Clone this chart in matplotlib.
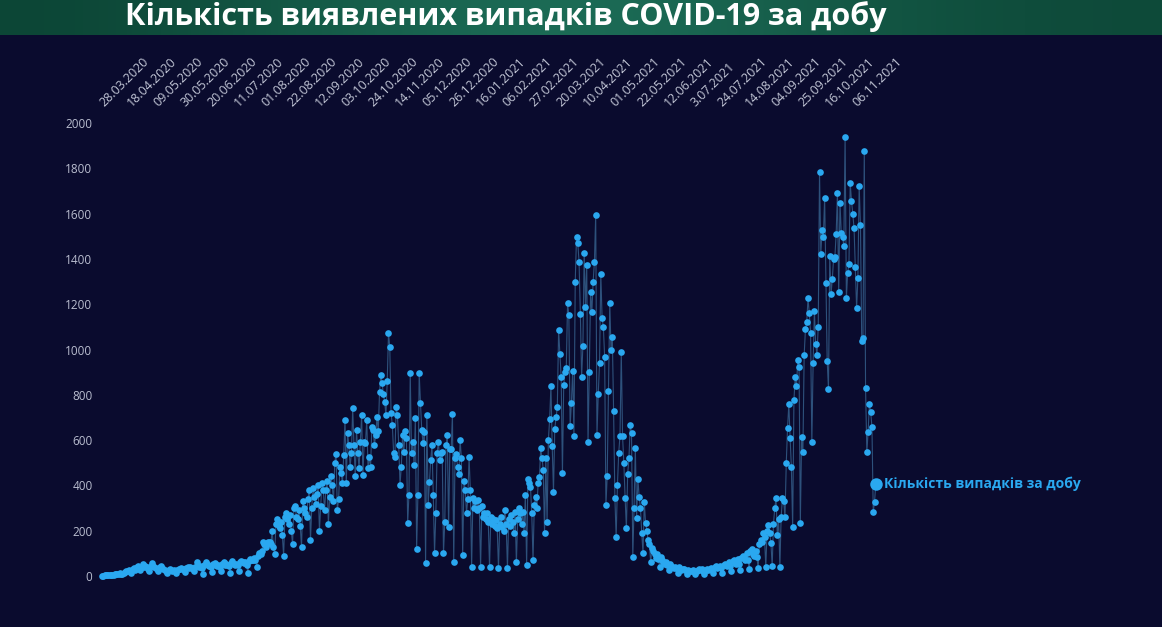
import numpy as np
import pandas as pd
import matplotlib
matplotlib.use('Agg')
import matplotlib.pyplot as plt
import matplotlib.transforms as mtransforms
from matplotlib.colors import LinearSegmentedColormap

# тексти
title = 'Кількість виявлених випадків COVID-19 за добу'
series_name = 'Кількість випадків за добу'
start_date = '2020-03-28'

# мітки осі X (кожні 21 день)
tick_labels = ['28.03.2020', '18.04.2020', '09.05.2020', '30.05.2020', '20.06.2020',
               '11.07.2020', '01.08.2020', '22.08.2020', '12.09.2020', '03.10.2020',
               '24.10.2020', '14.11.2020', '05.12.2020', '26.12.2020', '16.01.2021',
               '06.02.2021', '27.02.2021', '20.03.2021', '10.04.2021', '01.05.2021',
               '22.05.2021', '12.06.2021', '3.07.2021', '24.07.2021', '14.08.2021',
               '04.09.2021', '25.09.2021', '16.10.2021', '06.11.2021']

y_ticks = [0, 200, 400, 600, 800, 1000, 1200, 1400, 1600, 1800, 2000]

# щоденні значення (по тижнях, оцінено з картинки)
cases = [
    1, 2, 3, 3, 4, 5, 5,
    6, 5, 4, 7, 8, 9, 10,
    12, 10, 8, 15, 18, 20, 22,
    25, 20, 15, 30, 35, 28, 40,
    45, 35, 25, 40, 55, 38, 45,
    40, 32, 22, 45, 57, 42, 38,
    35, 30, 20, 40, 45, 35, 30,
    28, 22, 15, 25, 30, 26, 24,
    25, 20, 12, 28, 32, 30, 35,
    30, 28, 18, 35, 40, 36, 38,
    35, 30, 20, 40, 62, 42, 40,
    42, 35, 10, 50, 60, 55, 48,
    45, 38, 18, 52, 58, 50, 45,
    48, 40, 20, 55, 62, 50, 52,
    50, 45, 15, 58, 65, 55, 50,
    55, 48, 20, 60, 68, 62, 58,
    60, 50, 15, 65, 75, 70, 72,
    80, 72, 40, 90, 100, 95, 110,
    150, 140, 130, 145, 150, 148, 140,
    200, 130, 95, 230, 250, 220, 210,
    240, 180, 90, 260, 280, 250, 230,
    270, 200, 140, 300, 310, 260, 250,
    290, 220, 128, 330, 300, 280, 260,
    340, 380, 160, 300, 390, 350, 320,
    360, 400, 200, 310, 410, 380, 290,
    380, 420, 230, 350, 440, 400, 330,
    500, 540, 290, 340, 480, 455, 410,
    534, 689, 410, 631, 578, 481, 543,
    742, 578, 441, 645, 543, 477, 592,
    711, 446, 592, 587, 689, 477, 525,
    481, 658, 645, 578, 623, 700, 640,
    812, 887, 852, 803, 768, 711, 860,
    1073, 1011, 720, 667, 543, 525, 746,
    711, 578, 402, 481, 623, 547, 640,
    609, 234, 358, 896, 543, 592, 490,
    698, 119, 358, 896, 764, 645, 587,
    636, 57, 711, 313, 415, 512, 578,
    358, 101, 278, 543, 592, 512, 543,
    547, 101, 238, 578, 623, 216, 560,
    560, 715, 62, 520, 540, 480, 450,
    600, 520, 93, 420, 380, 278, 340,
    525, 380, 40, 344, 300, 330, 290,
    336, 300, 40, 310, 260, 280, 250,
    278, 240, 40, 260, 230, 250, 220,
    247, 210, 35, 230, 260, 216, 200,
    291, 230, 35, 250, 220, 270, 240,
    190, 283, 60, 250, 300, 280, 230,
    283, 190, 358, 49, 428, 410, 393,
    278, 70, 313, 350, 300, 410, 437,
    565, 521, 470, 190, 520, 238, 600,
    693, 839, 574, 371, 650, 700, 746,
    1086, 980, 879, 455, 843, 900, 918,
    1205, 1152, 662, 764, 905, 618, 1300,
    1497, 1470, 1386, 1157, 879, 1015, 1426,
    1188, 1373, 592, 901, 1254, 1165, 1300,
    1386, 1594, 623, 803, 940, 1333, 1139,
    1100, 967, 313, 441, 817, 1205, 1000,
    1055, 728, 344, 172, 402, 543, 620,
    989, 618, 500, 344, 212, 450, 520,
    667, 631, 84, 300, 565, 256, 428,
    350, 300, 190, 101, 327, 234, 200,
    159, 140, 60, 125, 110, 95, 80,
    95, 75, 40, 85, 70, 60, 55,
    60, 50, 25, 55, 45, 40, 35,
    40, 35, 15, 38, 30, 28, 32,
    30, 25, 10, 28, 24, 20, 22,
    25, 20, 8, 22, 26, 30, 28,
    30, 22, 10, 28, 32, 25, 30,
    35, 28, 12, 38, 42, 35, 40,
    45, 35, 15, 50, 55, 48, 42,
    60, 45, 20, 65, 70, 58, 55,
    75, 55, 25, 80, 90, 85, 70,
    100, 70, 30, 110, 120, 95, 90,
    110, 85, 35, 140, 160, 150, 190,
    170, 40, 200, 225, 190, 146, 44,
    230, 300, 344, 181, 250, 40, 260,
    344, 330, 260, 499, 653, 759, 609,
    481, 216, 777, 880, 839, 954, 923, 234,
    614, 547, 976, 1090, 1120, 1227, 1161, 1073,
    592, 940, 1170, 1024, 976, 1100, 1784,
    1422, 1528, 1497, 1669, 1294, 949, 826,
    1413, 1245, 1311, 1400, 1408, 1510, 1691, 1254,
    1647, 1514, 1497, 1457, 1938, 1227, 1338,
    1377, 1735, 1656, 1600, 1536, 1364, 1183, 1316,
    1722, 1550, 1038, 1051, 1876, 830, 547,
    636, 759, 724, 658, 283, 327, 405,
]

dates = pd.date_range(start_date, periods=len(cases), freq='D')
tick_dates = pd.date_range(start_date, periods=len(tick_labels), freq='21D')

bg = '#0a0b2e'
dot = '#2aa8f0'
font = ['Open Sans', 'DejaVu Sans']
W, H = 1162, 627

fig = plt.figure(figsize=(W / 100, H / 100), dpi=100, facecolor=bg)

# зелена шапка з градієнтом
hdr = fig.add_axes([0, 1 - 35 / H, 1, 35 / H])
grad = np.array([[0.0, 0.35, 0.75, 1.0, 0.7, 0.3, 0.1]])
cm = LinearSegmentedColormap.from_list('hdr', ['#0c4636', '#1d6e58'])
hdr.imshow(grad, aspect='auto', cmap=cm, interpolation='bicubic', extent=[0, 1, 0, 1])
hdr.set_axis_off()
fig.text(125 / W, 1 - 25 / H, title, color='white', fontsize=22, fontweight='bold',
         family=font, ha='left', va='baseline')

# основний графік
px_day = 1.279
left_px, right_px = 98.0, 895.0
x0 = pd.Timestamp(start_date)
xmin = x0 - pd.Timedelta(days=(102 - left_px) / px_day)
xmax = x0 + pd.Timedelta(days=(right_px - 102) / px_day)
ymin, ymax = -60, 2000
top_px = 123
bot_px = 576 + (0 - ymin) * 453 / 2000

ax = fig.add_axes([left_px / W, 1 - bot_px / H, (right_px - left_px) / W, (bot_px - top_px) / H])
ax.set_facecolor(bg)
ax.set_xlim(xmin, xmax)
ax.set_ylim(ymin, ymax)

ax.plot(dates, cases, color='#4680b0', lw=0.8, alpha=0.6, zorder=2)
ax.plot(dates, cases, 'o', ms=4.8, color=dot, mec='none', zorder=3)
ax.plot(dates[-1], cases[-1], 'o', ms=9, color=dot, mec='none', zorder=4)
ax.annotate(series_name, (dates[-1], cases[-1]), xytext=(6, 0), textcoords='offset points',
            ha='left', va='center', color=dot, fontsize=10, fontweight='bold',
            family=font, annotation_clip=False)

for s in ax.spines.values():
    s.set_visible(False)

ax.set_yticks(y_ticks)
ax.set_yticklabels([str(v) for v in y_ticks], color='#b9bdcf', fontsize=8.5, family=font)
ax.tick_params(axis='y', length=0, pad=4)

ax.xaxis.tick_top()
ax.set_xticks(tick_dates)
ax.set_xticklabels(tick_labels, rotation=45, ha='left', va='bottom', rotation_mode='anchor',
                   color='#c2c6d6', fontsize=9, family=font)
ax.tick_params(axis='x', length=0, pad=10)
shift = mtransforms.ScaledTranslation(5 / 100, 0, fig.dpi_scale_trans)
for lab in ax.get_xticklabels():
    lab.set_transform(lab.get_transform() + shift)

fig.savefig('out.png', dpi=100, facecolor=bg)
